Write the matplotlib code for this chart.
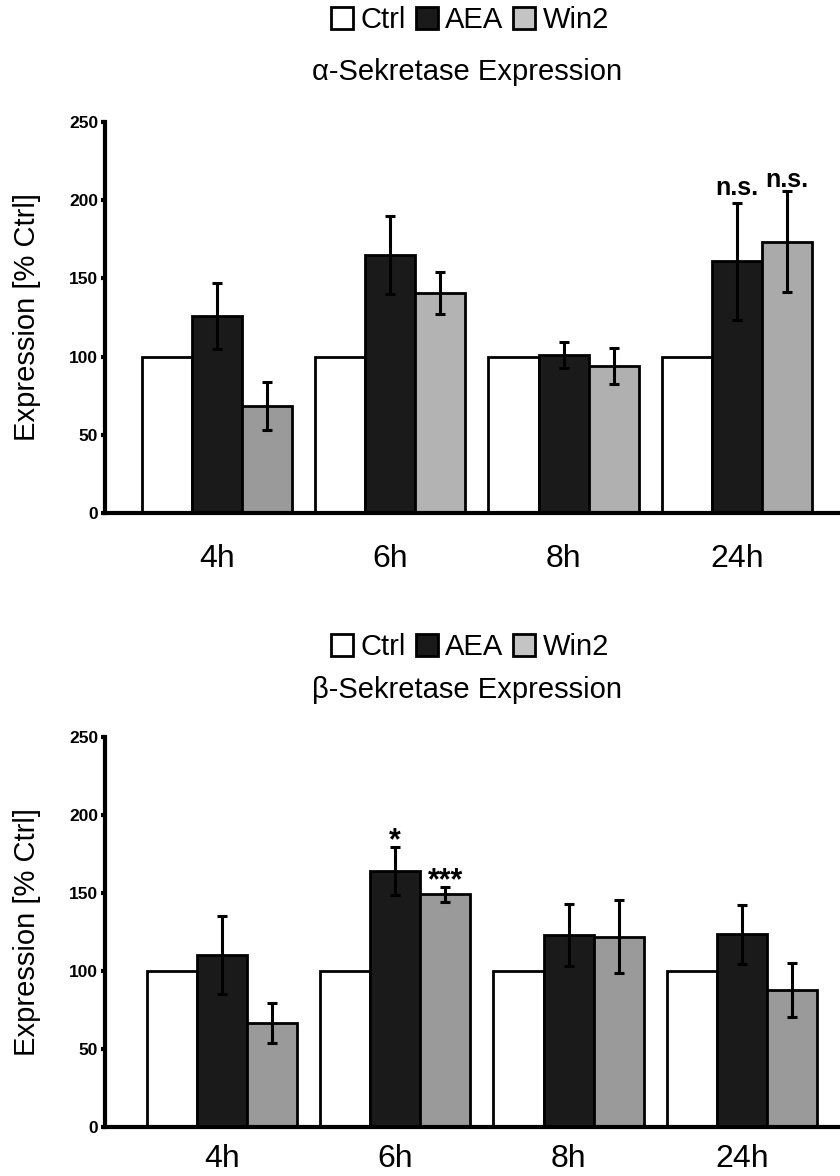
import matplotlib
matplotlib.use('Agg')
import matplotlib.pyplot as plt
from matplotlib.patches import Patch
import numpy as np

plt.rcParams['font.family'] = ['Liberation Sans', 'DejaVu Sans']

times = ['4h', '6h', '8h', '24h']
series = ['Ctrl', 'AEA', 'Win2']

# alpha-secretase
alpha_ctrl = [100, 100, 100, 100]
alpha_aea = [126, 165, 101, 161]
alpha_aea_err = [21, 25, 8.5, 37.5]
alpha_win = [68.5, 140.5, 94, 173.5]
alpha_win_err = [15.5, 13.5, 11.3, 32.5]
alpha_win_colors = ['#9a9a9a', '#b3b3b3', '#b0b0b0', '#aaaaaa']
# (time index, series index, text, y, size)
alpha_marks = [(3, 1, 'n.s.', 203, 18), (3, 2, 'n.s.', 208.5, 18)]

# beta-secretase
beta_ctrl = [100, 100, 100, 100]
beta_aea = [110, 164, 123, 123.5]
beta_aea_err = [25, 15.5, 20, 19]
beta_win = [67, 149, 122, 88]
beta_win_err = [12.8, 4.8, 23.5, 17.3]
beta_win_colors = ['#9a9a9a', '#9a9a9a', '#9a9a9a', '#9a9a9a']
beta_marks = [(1, 1, '*', 178, 22), (1, 2, '***', 152.5, 22)]

narrow = ['Liberation Sans Narrow', 'Liberation Sans', 'DejaVu Sans']

fig = plt.figure(figsize=(8.4, 11.76), dpi=100)


def panel(rect, xlim, ctrl, aea, aea_err, win, win_err, win_colors, marks,
          title, leg_y, title_y, xpad):
    ax = fig.add_axes(rect)
    x = np.arange(len(times))
    w = 0.289
    err_kw = dict(ecolor='black', elinewidth=2.2, capsize=3.8, capthick=2.2)
    ax.bar(x - w, ctrl, w, color='white', edgecolor='black', linewidth=2)
    ax.bar(x, aea, w, color='#1a1a1a', edgecolor='black', linewidth=2,
           yerr=aea_err, error_kw=err_kw)
    ax.bar(x + w, win, w, color=win_colors, edgecolor='black', linewidth=2,
           yerr=win_err, error_kw=err_kw)
    for i, s, txt, y, size in marks:
        ax.text(i + (s - 1) * w, y, txt, ha='center', va='baseline',
                fontsize=size, fontweight='bold')
    ax.set_xlim(*xlim)
    ax.set_ylim(0, 250)
    ax.set_yticks([0, 50, 100, 150, 200, 250])
    ax.set_xticks(x)
    ax.set_xticklabels(times, fontsize=23)
    ax.tick_params(axis='x', length=0, pad=xpad)
    ax.tick_params(axis='y', length=3, width=3, pad=2)
    for lab in ax.get_yticklabels():
        lab.set_family(narrow)
        lab.set_fontweight('bold')
        lab.set_fontsize(12.5)
    for s in ['top', 'right']:
        ax.spines[s].set_visible(False)
    for s in ['left', 'bottom']:
        ax.spines[s].set_linewidth(3)
    ax.set_ylabel('Expression [% Ctrl]', fontsize=21, labelpad=20)

    handles = [Patch(facecolor='white', edgecolor='black', linewidth=2),
               Patch(facecolor='#1a1a1a', edgecolor='black', linewidth=2),
               Patch(facecolor='#c4c4c4', edgecolor='black', linewidth=2)]
    fig.legend(handles, series, loc='center', bbox_to_anchor=(470 / 840, 1 - leg_y / 1176),
               ncol=3, frameon=False, handlelength=0.75, handleheight=0.75,
               handletextpad=0.25, columnspacing=0.35, borderpad=0,
               prop={'family': narrow, 'size': 21})
    fig.text(467 / 840, 1 - title_y / 1176, title, ha='center', va='center', fontsize=21)
    return ax


panel([0.125, 0.5638, 0.875, 0.3325], (-0.646, 3.595),
      alpha_ctrl, alpha_aea, alpha_aea_err, alpha_win, alpha_win_err,
      alpha_win_colors, alpha_marks, 'α-Sekretase Expression', 20, 72, 22)

panel([0.125, 0.0414, 0.875, 0.3322], (-0.675, 3.566),
      beta_ctrl, beta_aea, beta_aea_err, beta_win, beta_win_err,
      beta_win_colors, beta_marks, 'β-Sekretase Expression', 647, 690, 12)

fig.savefig('out.png', dpi=100)
